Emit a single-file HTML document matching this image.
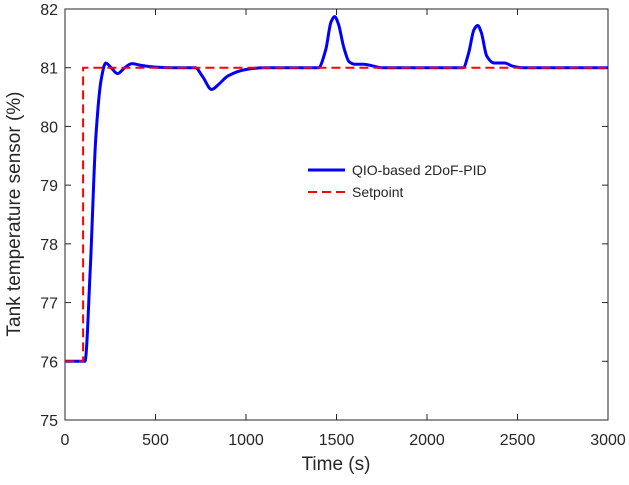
<!DOCTYPE html>
<html><head><meta charset="utf-8"><style>
body{margin:0;background:#fff}
svg text{font-family:"Liberation Sans",Arial,sans-serif;fill:#262626}
</style></head><body>
<svg width="629" height="480" id="c">
<rect x="65" y="9" width="543" height="411" fill="#fff" stroke="#262626" stroke-width="1"/>
<g id="ticks"></g>
<g id="series"></g>
<text x="336" y="470" font-size="19" text-anchor="middle">Time (s)</text>
<text transform="translate(20,214) rotate(-90)" font-size="19" text-anchor="middle">Tank temperature sensor (%)</text>
<g>
<line x1="308" y1="170" x2="345" y2="170" stroke="#0000ff" stroke-width="3"/>
<text x="352" y="175" font-size="14">QIO-based 2DoF-PID</text>
<line x1="308" y1="192" x2="345" y2="192" stroke="#ff0000" stroke-width="2" stroke-dasharray="9,5"/>
<text x="352" y="197" font-size="14">Setpoint</text>
</g>
</svg>
<script>
const xTicks=[0,500,1000,1500,2000,2500,3000];
const yTicks=[75,76,77,78,79,80,81,82];
const pidT=[0,110,140,170,200,225,255,290,330,370,420,500,600,720,760,810,850,900,1000,1100,1400,1440,1470,1490,1510,1540,1570,1600,1650,1700,1750,2200,2230,2260,2280,2300,2330,2370,2430,2470,2525,3000];
const pidV=[76,76,77.6,79.8,80.8,81.08,81.0,80.9,81.0,81.07,81.04,81.01,81.0,81.0,80.85,80.63,80.72,80.86,80.97,81.0,81.0,81.3,81.78,81.87,81.75,81.35,81.1,81.06,81.06,81.03,81.0,81.0,81.25,81.65,81.72,81.6,81.2,81.08,81.08,81.03,81.0,81.0];
const spT=[0,100,100,3000];
const spV=[76,76,81,81];
const X=t=>65+t/3000*543, Y=v=>420-(v-75)/7*411;
const NS='http://www.w3.org/2000/svg';
const tk=document.getElementById('ticks'), se=document.getElementById('series');
function mk(tag,a,p){const e=document.createElementNS(NS,tag);for(const k in a)e.setAttribute(k,a[k]);p.appendChild(e);return e;}
xTicks.forEach(t=>{
 const l=mk('line',{x1:X(t),x2:X(t),y1:420,y2:414,stroke:'#262626'},tk);
 
 
 const l2=mk('line',{x1:X(t),x2:X(t),y1:9,y2:15,stroke:'#262626'},tk);
 
 
 const tx=mk('text',{x:X(t),y:445,'font-size':16,'text-anchor':'middle'},tk);tx.textContent=t;
 
 
});
yTicks.forEach(v=>{
 const l=mk('line',{x1:65,x2:71,y1:Y(v),y2:Y(v),stroke:'#262626'},tk);
 
 
 const l2=mk('line',{x1:602,x2:608,y1:Y(v),y2:Y(v),stroke:'#262626'},tk);
 
 
 const tx=mk('text',{x:58,y:Y(v)+6,'font-size':16,'text-anchor':'end'},tk);tx.textContent=v;
 
 
});
// monotone cubic (Fritsch-Carlson) interpolation
const px=pidT.map(X), py=pidV.map(Y), n=px.length;
const dl=[],m=[];
for(let i=0;i<n-1;i++)dl.push((py[i+1]-py[i])/(px[i+1]-px[i]));
m[0]=dl[0];m[n-1]=dl[n-2];
for(let i=1;i<n-1;i++){
 if(dl[i-1]*dl[i]<=0)m[i]=0;
 else{const h0=px[i]-px[i-1],h1=px[i+1]-px[i];const w1=2*h1+h0,w2=h1+2*h0;m[i]=(w1+w2)/(w1/dl[i-1]+w2/dl[i]);}
}
let d='M'+px[0]+','+py[0];
for(let i=0;i<n-1;i++){
 const h=(px[i+1]-px[i])/3;
 d+=`C${px[i]+h},${py[i]+m[i]*h} ${px[i+1]-h},${py[i+1]-m[i+1]*h} ${px[i+1]},${py[i+1]}`;
}
const pl=mk('path',{d:d,fill:'none',stroke:'#0000ff','stroke-width':3,'stroke-linejoin':'round'},se);


const sp=mk('polyline',{points:spT.map((t,i)=>X(t)+','+Y(spV[i])).join(' '),fill:'none',stroke:'#ff0000','stroke-width':2,'stroke-dasharray':'9,5'},se);


</script>
</body></html>
